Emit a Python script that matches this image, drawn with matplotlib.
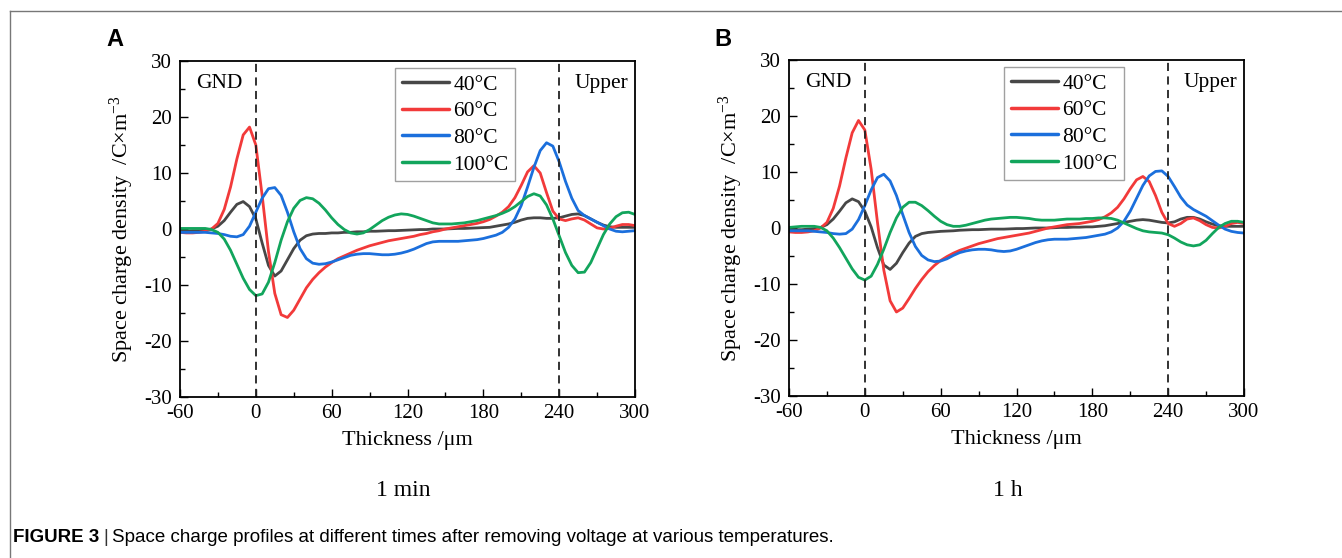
import matplotlib
matplotlib.use("Agg")
import matplotlib.pyplot as plt
from matplotlib.lines import Line2D
from matplotlib.ticker import MultipleLocator

plt.rcParams["axes.unicode_minus"] = False
plt.rcParams["mathtext.fontset"] = "custom"
plt.rcParams["mathtext.rm"] = "Liberation Serif"

# ---------------- data ----------------
thickness = list(range(-60, 301, 5))

labels = ["40°C", "60°C", "80°C", "100°C"]
colors = ["#474747", "#f23a3a", "#1b6fdc", "#12a55c"]

a_40 = [-0.4, -0.4, -0.3, -0.3, -0.2, 0.0, 0.5, 1.5, 3.0, 4.4, 4.9, 4.0, 1.8, -2.5, -6.5, -8.4, -7.5, -5.5, -3.5, -2.0,
        -1.2, -0.9, -0.8, -0.8, -0.7, -0.7, -0.6, -0.6, -0.5, -0.5, -0.4, -0.4, -0.35, -0.3, -0.3, -0.25, -0.2, -0.15,
        -0.1, -0.1, 0.0, 0.0, 0.0, 0.05, 0.1, 0.1, 0.15, 0.2, 0.25, 0.3, 0.5, 0.7, 0.9, 1.2, 1.6, 1.9, 2.0, 2.0, 1.9,
        1.9, 2.0, 2.3, 2.6, 2.7, 2.4, 1.8, 1.2, 0.7, 0.4, 0.3, 0.3, 0.3, 0.3]
a_60 = [-0.6, -0.7, -0.7, -0.6, -0.4, 0.0, 1.0, 3.5, 7.5, 12.5, 16.8, 18.2, 15.0, 6.0, -4.0, -11.5, -15.3, -15.8, -14.5,
        -12.5, -10.5, -9.0, -7.8, -6.8, -6.0, -5.3, -4.8, -4.3, -3.8, -3.4, -3.0, -2.7, -2.4, -2.1, -1.9, -1.7, -1.5,
        -1.3, -1.0, -0.8, -0.5, -0.3, 0.0, 0.2, 0.4, 0.6, 0.8, 1.0, 1.3, 1.7, 2.3, 3.0, 4.0, 5.6, 7.8, 10.2, 11.3, 10.0,
        6.5, 3.2, 1.8, 1.5, 1.8, 2.0, 1.6, 0.9, 0.2, 0.0, 0.1, 0.5, 0.8, 0.8, 0.6]
a_80 = [-0.6, -0.6, -0.6, -0.6, -0.6, -0.7, -0.8, -1.0, -1.3, -1.4, -1.0, 0.5, 3.0, 5.5, 7.2, 7.4, 6.0, 3.0, -0.5, -3.5,
        -5.3, -6.1, -6.3, -6.2, -5.9, -5.5, -5.1, -4.7, -4.5, -4.4, -4.4, -4.5, -4.6, -4.6, -4.5, -4.3, -4.0, -3.6,
        -3.1, -2.6, -2.3, -2.2, -2.2, -2.2, -2.2, -2.1, -2.0, -1.9, -1.7, -1.4, -1.1, -0.6, 0.3, 1.8, 4.2, 7.5, 11.0,
        14.0, 15.4, 14.8, 12.0, 8.5, 5.5, 3.3, 2.4, 1.8, 1.2, 0.6, 0.0, -0.4, -0.5, -0.4, -0.3]
a_100 = [0.1, 0.1, 0.1, 0.1, 0.1, -0.1, -0.6, -1.8, -3.8, -6.3, -8.8, -10.8, -11.9, -11.6, -9.5, -6.0, -2.0, 1.3, 3.7,
         5.1, 5.6, 5.4, 4.6, 3.4, 2.0, 0.8, -0.1, -0.7, -0.9, -0.7, -0.1, 0.7, 1.5, 2.1, 2.5, 2.7, 2.6, 2.3, 1.9, 1.5,
         1.1, 0.9, 0.9, 0.9, 1.0, 1.1, 1.3, 1.5, 1.8, 2.1, 2.4, 2.8, 3.3, 4.0, 4.9, 5.8, 6.3, 5.9, 4.3, 1.8, -1.2, -4.2,
         -6.5, -7.8, -7.7, -6.0, -3.5, -1.0, 0.9, 2.2, 2.9, 3.0, 2.6]

b_40 = [-0.3, -0.3, -0.3, -0.2, -0.1, 0.1, 0.6, 1.6, 3.0, 4.5, 5.2, 4.7, 3.0, 0.2, -3.5, -6.6, -7.4, -6.3, -4.4, -2.7,
        -1.5, -1.0, -0.8, -0.7, -0.6, -0.55, -0.5, -0.4, -0.35, -0.3, -0.3, -0.25, -0.2, -0.2, -0.2, -0.15, -0.1, -0.1,
        -0.05, 0.0, 0.0, 0.0, 0.05, 0.1, 0.1, 0.15, 0.15, 0.2, 0.2, 0.3, 0.4, 0.6, 0.8, 1.0, 1.2, 1.4, 1.5, 1.4, 1.2,
        1.0, 0.9, 1.1, 1.6, 1.9, 1.9, 1.6, 1.1, 0.7, 0.4, 0.3, 0.3, 0.3, 0.3]
b_60 = [-0.7, -0.8, -0.8, -0.7, -0.5, 0.0, 1.0, 3.5, 7.5, 12.5, 17.0, 19.2, 17.5, 10.5, 1.0, -7.5, -13.0, -15.0, -14.3,
        -12.6, -10.8, -9.2, -7.8, -6.7, -5.8, -5.1, -4.5, -4.0, -3.6, -3.2, -2.8, -2.5, -2.2, -1.9, -1.7, -1.5, -1.3,
        -1.1, -0.9, -0.6, -0.3, 0.0, 0.2, 0.4, 0.6, 0.7, 0.8, 1.0, 1.2, 1.5, 2.0, 2.7, 3.7, 5.2, 7.0, 8.6, 9.2, 8.3,
        5.8, 2.8, 0.8, 0.3, 0.8, 1.6, 1.8, 1.3, 0.6, 0.1, 0.0, 0.3, 0.8, 1.0, 0.8]
b_80 = [-0.5, -0.5, -0.5, -0.5, -0.6, -0.7, -0.8, -1.0, -1.1, -1.0, -0.2, 1.5, 4.0, 6.8, 9.0, 9.6, 8.4, 5.8, 2.4, -0.8,
        -3.3, -4.9, -5.7, -6.0, -5.9, -5.5, -4.9, -4.4, -4.1, -3.9, -3.8, -3.8, -3.9, -4.1, -4.2, -4.1, -3.8, -3.4,
        -3.0, -2.6, -2.3, -2.1, -2.0, -2.0, -2.0, -1.9, -1.8, -1.7, -1.5, -1.3, -1.1, -0.7, 0.0, 1.2, 3.0, 5.3, 7.6,
        9.3, 10.1, 10.2, 9.2, 7.4, 5.5, 4.1, 3.3, 2.7, 2.1, 1.3, 0.5, -0.2, -0.6, -0.8, -0.9]
b_100 = [0.1, 0.2, 0.3, 0.3, 0.3, 0.1, -0.5, -1.8, -3.5, -5.4, -7.3, -8.8, -9.3, -8.6, -6.5, -3.8, -0.8, 1.8, 3.7, 4.6,
         4.6, 4.0, 3.1, 2.1, 1.2, 0.6, 0.3, 0.3, 0.5, 0.8, 1.1, 1.4, 1.6, 1.7, 1.8, 1.9, 1.9, 1.8, 1.7, 1.5, 1.4, 1.4,
         1.4, 1.5, 1.6, 1.6, 1.6, 1.7, 1.7, 1.8, 1.8, 1.7, 1.4, 0.9, 0.4, -0.1, -0.5, -0.7, -0.8, -0.9, -1.2, -1.8,
         -2.5, -3.0, -3.2, -3.0, -2.2, -1.0, 0.1, 0.8, 1.2, 1.2, 1.0]

panel_a = [a_40, a_60, a_80, a_100]
panel_b = [b_40, b_60, b_80, b_100]
electrodes = [0, 240]
x_ticks = [-60, 0, 60, 120, 180, 240, 300]
y_ticks = [-30, -20, -10, 0, 10, 20, 30]

# ---------------- figure ----------------
W, H = 1342, 558
fig = plt.figure(figsize=(W / 100, H / 100), dpi=100)
serif = ["Liberation Serif", "DejaVu Serif"]

def px_axes(left, top, right, bottom):
    return fig.add_axes([left / W, 1 - bottom / H, (right - left) / W, (bottom - top) / H])

def draw_panel(ax, series, letter, letter_xy):
    for s, c, lab in zip(series, colors, labels):
        ax.plot(thickness, s, color=c, lw=2.0, label=lab, solid_capstyle="round")
    for e in electrodes:
        ax.axvline(e, color="#222222", lw=1.3, ls=(0, (4.5, 3)))
    ax.set_xlim(-60, 300)
    ax.set_ylim(-30, 30)
    ax.set_xticks(x_ticks)
    ax.set_yticks(y_ticks)
    ax.xaxis.set_minor_locator(MultipleLocator(30))
    ax.yaxis.set_minor_locator(MultipleLocator(5))
    ax.tick_params(which="both", direction="in", top=False, right=False, width=1.0)
    ax.tick_params(which="major", length=6, labelsize=15)
    ax.tick_params(axis="x", which="major", pad=5)
    ax.tick_params(axis="y", which="major", pad=6)
    ax.tick_params(which="minor", length=3.5)
    for lab in ax.get_xticklabels() + ax.get_yticklabels():
        lab.set_family(serif)
    for sp in ax.spines.values():
        sp.set_linewidth(1.3)
    ax.set_xlabel("Thickness /μm", fontsize=16, family=serif, labelpad=6)
    ax.set_ylabel("Space charge density  /C×m$\\mathregular{^{-3}}$", fontsize=16, family=serif, labelpad=6)
    ax.text(-47, 26, "GND", fontsize=15.5, family=serif, va="center", ha="left")
    ax.text(252, 26, "Upper", fontsize=15.5, family=serif, va="center", ha="left")
    leg = ax.legend(loc="upper left", bbox_to_anchor=(0.473, 0.978), frameon=True, fancybox=False,
                    prop={"family": serif, "size": 15.5}, handlelength=2.2, handletextpad=0.2,
                    labelspacing=0.3, borderpad=0.3, borderaxespad=0)
    leg.get_frame().set_edgecolor("#888888")
    leg.get_frame().set_linewidth(1.0)
    for h in leg.get_lines():
        h.set_linewidth(2.5)
    fig.text(letter_xy[0] / W, 1 - letter_xy[1] / H, letter, fontsize=17, fontweight="bold",
             family=["Liberation Sans", "DejaVu Sans"], ha="left", va="center")

ax_a = px_axes(180, 61, 635, 397)
ax_b = px_axes(789, 60, 1244, 396)
draw_panel(ax_a, panel_a, "A", (106, 39))
draw_panel(ax_b, panel_b, "B", (714, 39))

fig.text(403 / W, 1 - 491 / H, "1 min", fontsize=17, family=serif, ha="center", va="center")
fig.text(1008 / W, 1 - 491 / H, "1 h", fontsize=17, family=serif, ha="center", va="center")

# frame lines
fig.add_artist(Line2D([9.5 / W, 1], [1 - 10.5 / H, 1 - 10.5 / H], color="#777777", lw=1.0, transform=fig.transFigure))
fig.add_artist(Line2D([9.5 / W, 9.5 / W], [0, 1 - 10.5 / H], color="#777777", lw=1.0, transform=fig.transFigure))

# caption
sans = ["Liberation Sans", "DejaVu Sans"]
t1 = fig.text(13 / W, 1 - 537 / H, "FIGURE 3", fontsize=13.5, fontweight="bold", family=sans, ha="left", va="center")
fig.canvas.draw()
bb = t1.get_window_extent()
t2 = fig.text((bb.x1 + 4) / W, 1 - 537 / H, "|", fontsize=13.5, family=sans, ha="left", va="center", color="#333333")
fig.canvas.draw()
bb2 = t2.get_window_extent()
fig.text((bb2.x1 + 4) / W, 1 - 537 / H,
         "Space charge profiles at different times after removing voltage at various temperatures.",
         fontsize=13.5, family=sans, ha="left", va="center")

fig.savefig("out.png", dpi=100)
